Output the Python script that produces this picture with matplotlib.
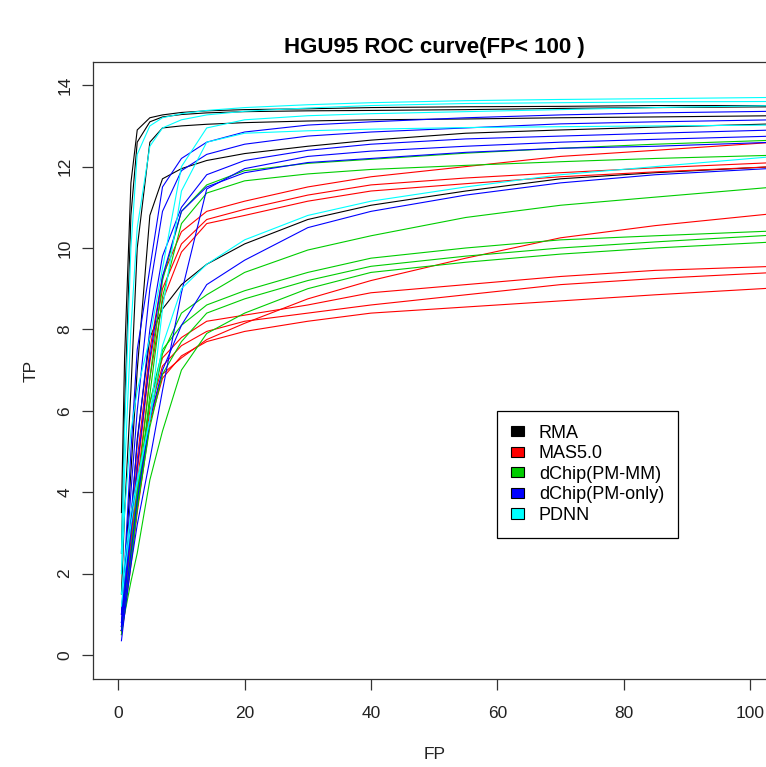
import matplotlib
matplotlib.use("Agg")
import matplotlib.pyplot as plt
from matplotlib.patches import Patch

plt.rcParams['font.family'] = ['Liberation Sans', 'DejaVu Sans']

# false positives at which each ROC curve is sampled
fp = [0.5, 1, 2, 3, 5, 7, 10, 14, 20, 30, 40, 55, 70, 85, 104]

rma = [
    [3.5, 7.3, 11.6, 12.9, 13.2, 13.27, 13.33, 13.37, 13.4, 13.42, 13.45, 13.47, 13.48, 13.5, 13.5],
    [2.5, 6.0, 10.8, 12.6, 13.1, 13.22, 13.28, 13.32, 13.35, 13.37, 13.38, 13.4, 13.43, 13.45, 13.47],
    [1.5, 3.5, 6.5, 10.0, 12.6, 12.95, 13.0, 13.04, 13.08, 13.12, 13.15, 13.17, 13.2, 13.22, 13.25],
    [1.0, 2.0, 4.5, 7.0, 10.8, 11.7, 11.95, 12.15, 12.32, 12.5, 12.65, 12.82, 12.9, 12.97, 13.05],
    [0.8, 1.5, 3.2, 5.3, 7.8, 8.5, 9.1, 9.6, 10.1, 10.7, 11.05, 11.4, 11.7, 11.85, 12.0],
]
mas5 = [
    [0.7, 1.5, 3.0, 4.8, 7.5, 9.3, 10.4, 10.9, 11.15, 11.5, 11.75, 12.0, 12.25, 12.4, 12.6],
    [0.6, 1.3, 2.8, 4.5, 7.2, 9.0, 10.1, 10.7, 10.95, 11.3, 11.55, 11.72, 11.85, 11.97, 12.1],
    [0.6, 1.2, 2.6, 4.2, 6.8, 8.7, 9.9, 10.6, 10.8, 11.15, 11.4, 11.58, 11.75, 11.87, 12.0],
    [0.6, 1.2, 2.5, 3.8, 5.8, 6.9, 7.3, 7.75, 8.15, 8.75, 9.2, 9.75, 10.25, 10.55, 10.85],
    [0.6, 1.2, 2.6, 4.0, 6.2, 7.3, 7.8, 8.2, 8.35, 8.6, 8.9, 9.1, 9.3, 9.45, 9.55],
    [0.6, 1.1, 2.4, 3.8, 6.0, 7.1, 7.6, 7.95, 8.2, 8.4, 8.6, 8.85, 9.1, 9.25, 9.4],
    [0.5, 1.0, 2.2, 3.5, 5.7, 6.8, 7.35, 7.7, 7.95, 8.2, 8.4, 8.55, 8.7, 8.85, 9.02],
]
dchip_mm = [
    [0.6, 1.2, 2.6, 4.0, 6.8, 9.2, 10.9, 11.55, 11.9, 12.08, 12.18, 12.33, 12.45, 12.55, 12.65],
    [0.5, 1.1, 2.4, 3.7, 6.4, 8.8, 10.6, 11.35, 11.65, 11.82, 11.93, 12.03, 12.12, 12.2, 12.28],
    [0.6, 1.1, 2.3, 3.6, 5.8, 7.4, 8.4, 8.85, 9.4, 9.95, 10.3, 10.75, 11.05, 11.25, 11.5],
    [0.6, 1.2, 2.5, 3.9, 6.2, 7.5, 8.1, 8.6, 8.95, 9.4, 9.75, 10.0, 10.2, 10.3, 10.42],
    [0.6, 1.1, 2.3, 3.6, 5.6, 6.9, 7.7, 8.4, 8.75, 9.2, 9.55, 9.8, 10.0, 10.15, 10.32],
    [0.6, 1.0, 1.8, 2.5, 4.3, 5.5, 7.0, 7.9, 8.4, 9.0, 9.4, 9.65, 9.85, 10.0, 10.15],
]
dchip_pm = [
    [1.0, 2.2, 5.0, 7.5, 9.5, 11.5, 12.2, 12.6, 12.85, 13.02, 13.1, 13.2, 13.27, 13.32, 13.36],
    [0.8, 1.8, 4.0, 6.0, 9.0, 10.9, 11.9, 12.3, 12.55, 12.75, 12.85, 12.95, 13.05, 13.1, 13.15],
    [0.7, 1.5, 3.4, 5.2, 8.0, 9.8, 11.0, 11.8, 12.15, 12.4, 12.55, 12.68, 12.75, 12.82, 12.9],
    [0.35, 1.0, 2.2, 3.2, 4.8, 6.5, 8.9, 11.45, 11.95, 12.25, 12.38, 12.5, 12.6, 12.67, 12.75],
    [0.6, 1.2, 2.5, 3.8, 5.8, 7.0, 8.1, 9.1, 9.7, 10.5, 10.9, 11.3, 11.6, 11.8, 11.96],
    [0.7, 1.4, 3.0, 4.6, 7.3, 9.3, 10.9, 11.5, 11.85, 12.1, 12.2, 12.35, 12.45, 12.5, 12.6],
]
pdnn = [
    [2.5, 5.5, 10.0, 12.3, 13.0, 13.2, 13.3, 13.38, 13.45, 13.52, 13.57, 13.62, 13.65, 13.67, 13.7],
    [2.0, 4.5, 8.0, 10.5, 12.5, 12.95, 13.15, 13.27, 13.36, 13.44, 13.5, 13.55, 13.57, 13.59, 13.6],
    [1.5, 2.3, 3.5, 4.3, 5.8, 8.5, 11.4, 12.6, 12.82, 12.88, 12.92, 12.96, 12.98, 13.0, 13.02],
    [2.0, 3.5, 5.5, 6.5, 7.8, 9.5, 12.0, 12.95, 13.15, 13.25, 13.3, 13.35, 13.4, 13.45, 13.5],
    [1.2, 2.0, 3.2, 4.2, 5.8, 7.6, 9.0, 9.6, 10.2, 10.8, 11.15, 11.5, 11.8, 12.0, 12.25],
]

methods = ['RMA', 'MAS5.0', 'dChip(PM-MM)', 'dChip(PM-only)', 'PDNN']
colors = ['black', '#FF0000', '#00CD00', '#0000FF', '#00FFFF']

fig = plt.figure(figsize=(7.66, 7.67), dpi=100)
# plot region runs past the right edge of the picture, as in the original
ax = fig.add_axes([93 / 766, 1 - 679 / 767, (775.3 - 93) / 766, (679 - 62) / 767])

for curves, col in zip([rma, mas5, dchip_mm, dchip_pm, pdnn], colors):
    for tp in curves:
        ax.plot(fp, tp, color=col, lw=0.8)

ax.set_xlim(-4, 104)
ax.set_ylim(-0.59, 14.57)
ax.set_xticks([0, 20, 40, 60, 80, 100])
ax.set_yticks([0, 2, 4, 6, 8, 10, 12, 14])
ax.tick_params(length=8, width=0.9, labelsize=12.5, colors='#333333', labelcolor='#222222')
ax.tick_params(axis='x', pad=11.5)
ax.tick_params(axis='y', pad=7)
plt.setp(ax.get_yticklabels(), rotation=90, va='center')
for s in ax.spines.values():
    s.set_linewidth(0.9)
    s.set_color('#333333')

ax.set_xlabel('FP', fontsize=12.5, labelpad=19, color='#222222')
ax.set_ylabel('TP', fontsize=12.5, labelpad=13, color='#222222')
fig.text(434 / 766, 1 - 47 / 767, 'HGU95 ROC curve(FP< 100 )', ha='center', va='center',
         fontsize=16, fontweight='bold')

handles = [Patch(facecolor=c, edgecolor='black', lw=0.8) for c in colors]
leg = fig.legend(handles, methods, loc='upper left', bbox_to_anchor=(497 / 766, 1 - 411 / 767),
                 fontsize=13, frameon=True, fancybox=False, framealpha=1, edgecolor='black',
                 handlelength=0.72, handleheight=0.5, handletextpad=0.85, labelspacing=0.2,
                 borderpad=0.75, borderaxespad=0)
leg.get_frame().set_linewidth(0.9)

fig.savefig('out.png', dpi=100)
